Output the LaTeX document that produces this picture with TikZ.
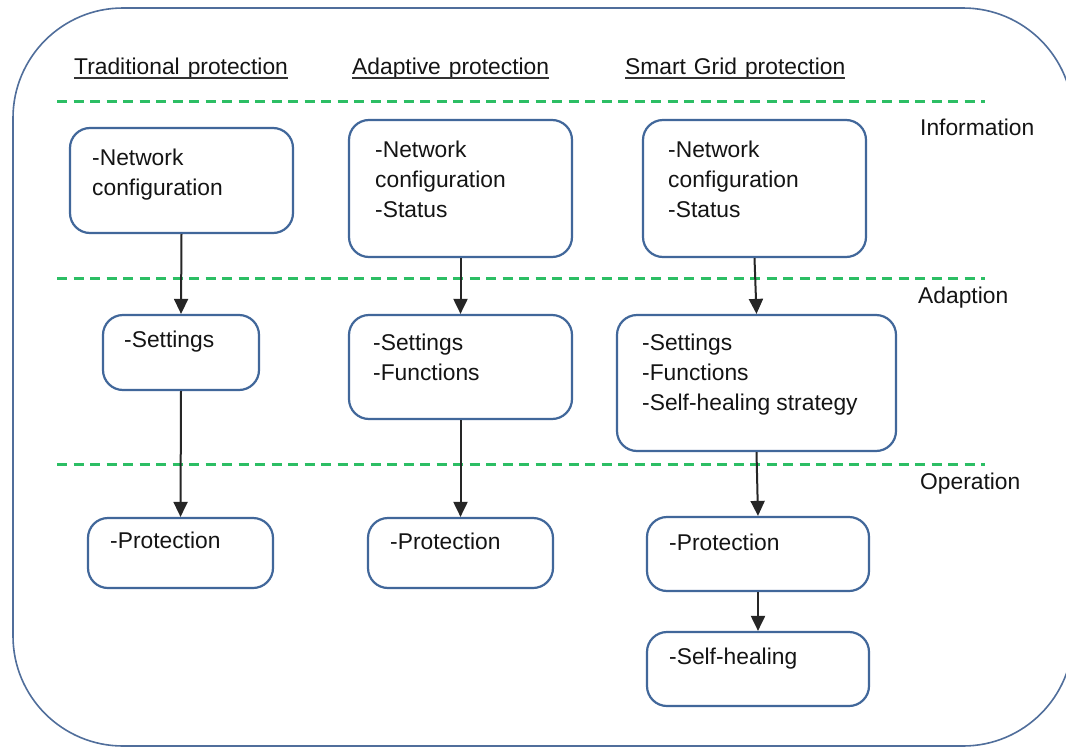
\documentclass[tikz,border=0pt]{standalone}
\usepackage{fontspec}
\setmainfont{Liberation Sans}
\usetikzlibrary{arrows.meta}
\definecolor{boxblue}{RGB}{65,103,154}
\definecolor{outerblue}{RGB}{80,110,155}
\definecolor{dashgreen}{RGB}{44,190,100}
\definecolor{ink}{RGB}{20,20,20}
\newcommand{\hdrfont}{\fontsize{22.8}{30}\selectfont\spaceskip=8pt plus 1pt\relax}
\tikzset{
  box/.style={draw=boxblue, line width=2.2pt, rounded corners=20pt, inner sep=0pt},
  txt/.style={anchor=north west, inner sep=0pt, align=left, text=ink, font=\fontsize{22.8}{30}\selectfont},
  lbl/.style={anchor=base west, inner sep=0pt, text=ink, font=\fontsize{22.8}{30}\selectfont},
  hdr/.style={anchor=base west, inner sep=0pt, text=ink, font=\hdrfont},
  flow/.style={draw=black!85, line width=2pt, -{Triangle[length=15pt,width=14pt]}},
  layer/.style={draw=dashgreen, line width=3pt, dash pattern=on 10pt off 6.5pt},
  ul/.style={draw=black!80, line width=1.4pt}
}
\begin{document}
\begin{tikzpicture}[x=1pt,y=-1pt]
\useasboundingbox (0,0) rectangle (1066,747);
\clip (0,0) rectangle (1066,747);
\fill[white] (0,0) rectangle (1066,747);
\draw[outerblue, line width=1.6pt, rounded corners=110pt] (13,8) rectangle (1073,746);

% layer separators
\draw[layer] (57,101) -- (985,101);
\draw[layer] (57,278) -- (985,278);
\draw[layer] (57,464) -- (985,464);

% column headers
\node[hdr] (h1) at (74,74) {Traditional protection};
\node[hdr] (h2) at (352,74) {Adaptive protection};
\node[hdr] (h3) at (625,74) {Smart Grid protection};
\draw[ul] ([yshift=-4pt]h1.base west) -- ([yshift=-4pt]h1.base east);
\draw[ul] ([yshift=-4pt]h2.base west) -- ([yshift=-4pt]h2.base east);
\draw[ul] ([yshift=-4pt]h3.base west) -- ([yshift=-4pt]h3.base east);

% layer labels
\node[lbl] (li) at (920,135) {Information};
\node[lbl] (la) at (918,303) {Adaption};
\node[lbl] (lo) at (920,489) {Operation};

% boxes
\node[box, minimum width=223pt, minimum height=105pt] (a1) at (181.5,180.5) {};
\node[box, minimum width=156pt, minimum height=75pt]  (a2) at (181,352.5) {};
\node[box, minimum width=185pt, minimum height=70pt]  (a3) at (180.5,553) {};
\node[box, minimum width=223pt, minimum height=137pt] (b1) at (460.5,188.5) {};
\node[box, minimum width=223pt, minimum height=104pt] (b2) at (460.5,367) {};
\node[box, minimum width=185pt, minimum height=70pt]  (b3) at (460.5,553) {};
\node[box, minimum width=223pt, minimum height=137pt] (c1) at (754.5,188.5) {};
\node[box, minimum width=279pt, minimum height=136pt] (c2) at (756.5,383) {};
\node[box, minimum width=222pt, minimum height=74pt]  (c3) at (758,554) {};
\node[box, minimum width=222pt, minimum height=74pt]  (c4) at (758,669) {};

% box texts
\node[txt] (a1t) at (92,144) {\strut-Network\\configuration};
\node[txt] (a2t) at (124,326) {\strut-Settings};
\node[txt] (a3t) at (110,527) {\strut-Protection};
\node[txt] (b1t) at (375,136) {\strut-Network\\configuration\\-Status};
\node[txt] (b2t) at (373,329) {\strut-Settings\\-Functions};
\node[txt] (b3t) at (390,528) {\strut-Protection};
\node[txt] (c1t) at (668,136) {\strut-Network\\configuration\\-Status};
\node[txt] (c2t) at (642,329) {\strut-Settings\\-Functions\\-Self-healing strategy};
\node[txt] (c3t) at (669,529) {\strut-Protection};
\node[txt] (c4t) at (669,643) {\strut-Self-healing};

% connectors
\draw[flow] (a1.south) -- (a2.north);
\draw[flow] (a2.south) -- (a3.north);
\draw[flow] (b1.south) -- (b2.north);
\draw[flow] (b2.south) -- (b3.north);
\draw[flow] (c1.south) -- (c2.north);
\draw[flow] (c2.south) -- (c3.north);
\draw[flow] (c3.south) -- (c4.north);
\end{tikzpicture}
\end{document}
